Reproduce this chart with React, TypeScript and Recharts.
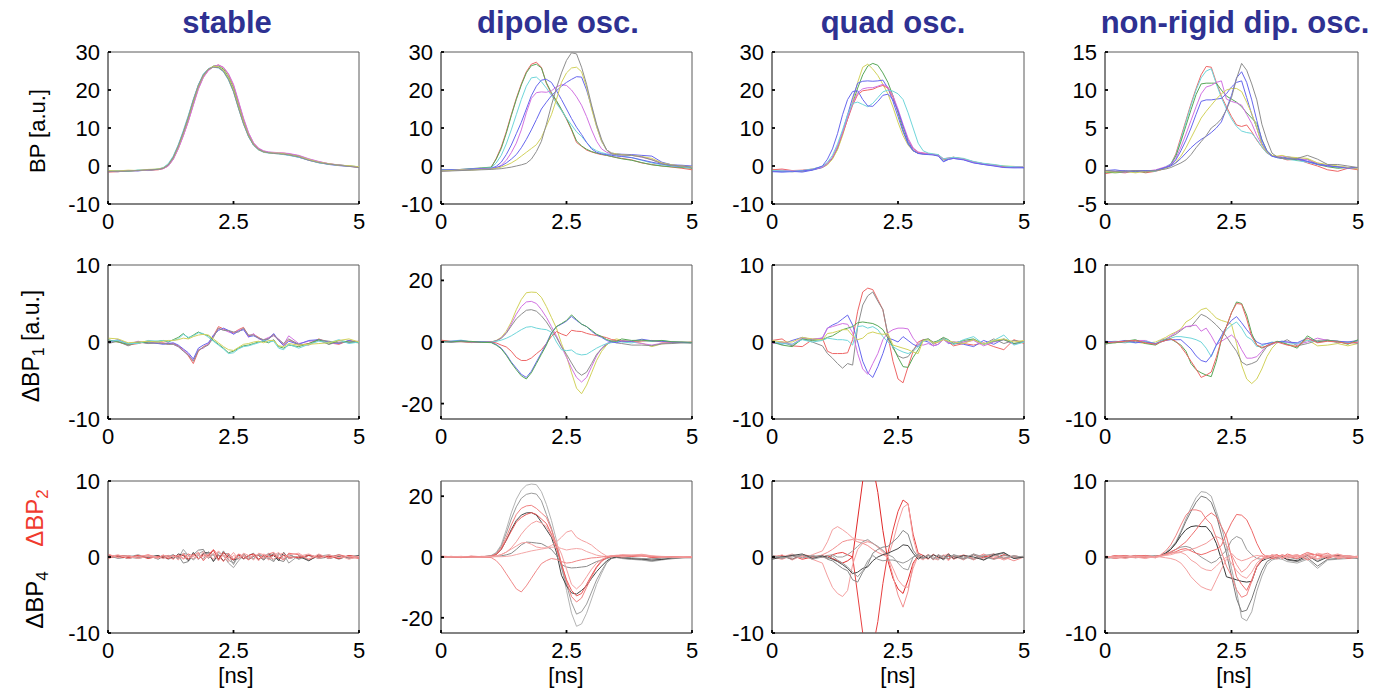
import React from 'react';
import { LineChart, Line, XAxis, YAxis, ReferenceArea } from 'recharts';

// ---------- shared sample grid (ns) and tick labels ----------
const X = [0,0.2,0.4,0.6,0.8,1.0, 1.1,1.2,1.3,1.4,1.5,1.6,1.7,1.8,1.9,2.0, 2.1,2.2,2.3,2.4,2.5,2.6,2.7,2.8,2.9,3.0, 3.1,3.2,3.3,3.4,3.5,3.6, 3.8,4.0,4.2,4.4,4.6,4.8,5.0];
const xTicks = [0, 2.5, 5];
const titles = ['stable', 'dipole osc.', 'quad osc.', 'non-rigid dip. osc.'];
const yTicksBP = [-10, 0, 10, 20, 30];
const yTicksBPsmall = [-5, 0, 5, 10, 15];
const yTicks10 = [-10, 0, 10];
const yTicks20 = [-20, 0, 20];

// ---------- row 1 : BP ----------
const bpStable = [
  [-1.6,-1.5,-1.3,-1.2,-1.1,-1.0, -0.7,0.0,1.8,4.6,8.0,11.8,16.2,20.4,23.4,25.2, 26.2,26.6,25.9,24.1,21.2,16.8,12.3,8.6,6.0,4.6, 3.9,3.6,3.5,3.4,3.4,3.2, 2.7,1.8,1.1,0.6,0.2,0.0,-0.4],
  [-1.4,-1.5,-1.2,-1.3,-1.0,-0.9, -0.5,0.4,2.4,5.4,9.0,13.0,17.4,21.3,24.1,25.6, 26.1,26.0,25.0,22.9,19.8,15.4,11.2,7.8,5.5,4.3, 3.7,3.5,3.4,3.3,3.1,2.9, 2.3,1.5,0.9,0.4,0.1,-0.1,-0.3],
  [-1.5,-1.3,-1.4,-1.1,-1.2,-0.8, -0.6,0.2,2.1,5.0,8.5,12.4,16.8,20.9,23.8,25.4, 26.3,26.3,25.5,23.5,20.5,16.0,11.7,8.1,5.7,4.4, 3.8,3.5,3.3,3.3,3.2,3.1, 2.6,1.7,1.0,0.5,0.3,0.0,-0.2],
  [-1.3,-1.2,-1.3,-1.1,-1.0,-0.8, -0.4,0.6,2.6,5.6,9.3,13.3,17.6,21.4,24.2,25.6, 26.0,25.8,24.8,22.6,19.5,15.1,11.0,7.7,5.4,4.2, 3.6,3.4,3.3,3.2,3.0,2.8, 2.3,1.6,0.8,0.5,0.2,0.0,-0.2],
  [-1.5,-1.4,-1.2,-1.2,-1.1,-0.9, -0.7,0.0,1.7,4.5,7.9,11.7,16.0,20.2,23.3,25.1, 26.1,26.6,26.0,24.3,21.5,17.1,12.6,8.8,6.1,4.7, 4.0,3.7,3.6,3.5,3.4,3.3, 2.8,1.9,1.2,0.6,0.3,0.0,-0.3],
  [-1.2,-1.3,-1.1,-1.2,-0.9,-0.8, -0.5,0.3,2.2,5.1,8.7,12.7,17.0,21.0,23.9,25.5, 26.2,26.1,25.2,23.2,20.1,15.7,11.5,8.0,5.6,4.3, 3.7,3.5,3.4,3.4,3.2,3.0, 2.5,1.7,1.0,0.6,0.2,0.1,-0.2],
  [-1.4,-1.4,-1.3,-1.2,-1.0,-0.9, -0.6,0.3,2.3,5.3,8.9,12.9,17.3,21.2,24.0,25.5, 26.0,25.9,24.9,22.8,19.6,15.2,11.1,7.8,5.5,4.3, 3.7,3.5,3.3,3.2,3.1,2.9, 2.4,1.5,0.9,0.5,0.2,-0.1,-0.4],
];
const bpDipole = [
  [-1.2,-1.0,-1.1,-0.8,-0.6,-0.4, 2.0,5.0,9.0,13.5,17.8,21.6,24.8,26.8,27.3,26.0, 21.7,19.0,17.0,14.7,12.3,9.5,6.2,5.2,4.2,3.7, 3.3,3.0,2.8,2.5,2.2,2.0, 1.6,0.8,0.4,0.0,-0.3,-0.6,-1.0],
  [-1.0,-1.1,-0.9,-0.7,-0.5,-0.3, 1.8,4.6,8.6,13.2,17.5,21.3,24.5,26.4,26.8,25.8, 21.9,19.3,17.2,14.9,12.5,9.7,6.6,5.3,4.4,3.8, 3.4,3.1,2.8,2.5,2.2,1.9, 1.5,0.9,0.3,0.0,-0.2,-0.4,-0.6],
  [-1.1,-1.0,-1.0,-0.8,-0.6,-0.5, 0.8,2.8,5.8,9.5,13.5,17.5,21.0,23.2,23.4,22.2, 20.5,18.6,16.5,14.6,12.6,10.8,9.0,7.8,6.2,4.8, 4.0,3.5,3.2,3.0,2.8,2.6, 2.2,1.5,0.8,0.3,0.0,-0.2,-0.4],
  [-1.0,-1.1,-0.9,-0.8,-0.7,-0.6, -0.1,1.0,3.0,5.5,8.5,11.5,15.0,18.5,21.0,22.6, 22.8,22.0,19.8,17.5,15.0,12.5,10.2,8.3,6.2,4.5, 3.6,3.2,3.0,2.8,2.6,2.5, 2.2,1.6,1.0,0.5,0.1,-0.1,-0.3],
  [-1.3,-1.2,-1.1,-0.9,-0.8,-0.7, -0.5,0.2,1.5,3.5,6.0,9.5,14.0,17.8,19.3,19.5, 19.4,19.8,20.8,21.4,21.2,20.0,18.2,16.0,13.0,9.5, 6.5,4.5,3.6,3.2,3.0,2.9, 2.8,2.3,1.7,0.8,0.3,0.0,-0.2],
  [-1.2,-1.0,-1.1,-0.9,-0.8,-0.7, -0.4,0.0,0.8,1.8,3.0,4.8,7.0,9.5,12.2,15.0, 16.8,18.5,19.8,21.0,22.0,22.8,23.5,23.4,20.0,15.5, 10.5,6.5,4.2,3.4,3.2,3.1, 3.0,2.8,2.6,1.0,0.3,0.2,0.0],
  [-1.3,-1.2,-1.0,-1.1,-0.9,-0.8, -0.6,-0.3,0.2,0.8,1.6,2.6,3.6,4.6,5.6,7.5, 10.5,13.5,17.5,22.0,24.5,25.8,26.0,24.8,20.8,15.0, 10.3,6.5,4.2,3.4,3.2,3.0, 2.8,2.5,2.0,0.8,0.3,0.0,-0.2],
  [-1.4,-1.3,-1.2,-1.1,-1.0,-0.9, -0.8,-0.7,-0.5,-0.3,0.0,0.3,0.7,1.8,3.8,6.5, 11.0,16.0,20.5,24.5,27.8,29.8,29.5,26.0,21.5,16.0, 11.0,7.0,4.2,3.2,3.0,2.9, 2.8,2.4,1.6,0.6,0.2,0.0,-0.3],
];
const bpQuad = [
  [-1.2,-1.3,-1.5,-1.4,-1.0,-0.3, 0.5,2.0,4.5,8.5,12.5,16.5,20.5,24.0,26.3,27.0, 26.5,24.5,22.0,18.5,14.0,9.5,6.0,4.0,3.4,3.2, 3.1,3.0,2.9,1.6,1.9,2.2, 1.8,1.0,0.5,0.2,-0.1,-0.3,-0.4],
  [-1.0,-1.1,-1.3,-1.4,-0.9,-0.4, 0.3,1.8,4.3,8.0,12.5,17.0,22.0,26.0,26.8,25.5, 23.8,21.5,19.0,15.5,11.5,8.0,5.5,4.0,3.4,3.3, 3.2,3.0,2.8,1.8,2.0,2.3, 1.9,1.1,0.6,0.3,0.0,-0.1,-0.3],
  [-1.4,-1.5,-1.4,-1.6,-1.1,-0.4, 0.6,2.3,5.0,9.0,13.5,18.0,21.8,22.3,22.4,22.3, 22.4,22.6,20.5,17.0,13.0,9.0,5.8,4.0,3.3,3.2, 3.1,3.0,2.7,1.2,1.8,2.0, 1.7,0.9,0.4,0.1,-0.2,-0.4,-0.5],
  [-1.0,-0.8,-1.2,-1.1,-0.8,-0.2, 0.7,2.2,5.0,8.5,12.3,16.0,18.8,19.8,20.0,20.2, 20.8,21.2,20.5,18.0,14.5,10.5,7.0,4.6,3.6,3.4, 3.3,3.1,2.9,1.9,2.1,2.3, 1.8,1.1,0.6,0.3,-0.2,-0.2,-0.3],
  [-1.3,-1.1,-1.3,-1.2,-0.9,-0.3, 0.6,2.3,5.2,8.8,12.7,16.5,19.3,20.3,20.6,20.6, 21.0,21.5,20.8,18.5,15.0,11.0,7.3,4.8,3.7,3.4, 3.2,3.0,2.8,1.8,2.0,2.2, 1.8,1.0,0.6,0.2,-0.4,-0.2,-0.3],
  [-1.2,-1.3,-1.4,-1.2,-0.8,-0.1, 1.0,2.8,5.8,9.5,13.5,16.5,16.8,16.2,15.6,16.5, 18.0,19.5,20.0,19.7,19.0,17.5,14.0,10.0,6.0,4.0, 3.4,3.2,3.0,1.9,2.1,2.3, 2.0,1.2,0.7,0.4,0.0,-0.2,-0.3],
  [-1.5,-1.6,-1.5,-1.3,-1.0,0.0, 1.8,4.5,8.5,13.5,17.5,19.6,19.8,17.5,15.8,15.7, 17.0,18.6,18.9,17.5,14.5,10.5,6.5,4.2,3.3,3.1, 3.0,2.9,2.6,1.1,1.7,2.0, 1.6,0.8,0.4,0.0,-0.4,-0.5,-0.4],
];
const bpNonRigid = [
  [-1.0,-0.8,-0.9,-0.6,-0.9,-0.7, -0.5,-0.2,0.2,1.6,3.8,6.0,8.2,10.2,12.0,13.1, 13.0,11.0,9.2,7.8,6.5,5.4,5.2,5.4,4.5,3.4, 2.5,1.7,1.4,1.2,1.0,0.8, 0.9,0.4,0.0,-0.5,-0.7,-0.3,-0.5],
  [-0.7,-0.8,-0.7,-0.8,-0.6,-0.7, -0.4,-0.1,0.3,1.4,3.5,5.8,8.0,10.0,11.6,12.5, 12.8,10.8,9.0,7.5,6.2,5.2,4.6,4.4,4.3,3.5, 2.5,1.7,1.3,1.1,1.0,0.9, 0.7,0.5,0.2,0.0,-0.2,-0.2,-0.3],
  [-0.8,-0.9,-0.8,-0.7,-0.8,-0.6, -0.4,-0.2,0.2,1.3,3.2,5.3,7.4,9.4,10.8,10.9, 10.9,10.9,10.0,9.2,8.8,8.4,7.8,7.0,6.3,5.6, 3.5,2.0,1.4,1.2,1.1,1.0, 0.8,0.9,0.2,-0.1,-0.3,-0.2,-0.2],
  [-0.7,-0.7,-0.8,-0.6,-0.7,-0.5, -0.3,-0.1,0.2,1.0,2.5,4.2,6.0,7.8,9.5,10.4, 10.6,11.0,11.2,8.8,8.5,8.3,8.0,6.8,5.6,4.0, 2.8,1.8,1.3,1.2,1.3,1.2, 1.0,0.8,0.4,0.0,-0.1,-0.2,-0.3],
  [-0.6,-0.7,-0.6,-0.8,-0.6,-0.6, -0.4,-0.2,0.1,0.8,2.0,3.4,5.0,6.8,8.5,8.7, 8.7,8.8,8.9,9.5,10.4,11.0,11.2,9.0,6.8,5.0, 3.0,1.8,1.3,1.2,1.0,1.2, 1.0,0.6,0.3,0.1,-0.1,-0.2,-0.2],
  [-0.7,-0.8,-0.7,-0.9,-0.7,-0.6, -0.5,-0.3,0.0,0.5,1.3,2.4,3.7,5.0,6.3,7.2, 8.0,8.8,9.5,10.0,10.2,10.2,9.8,8.4,6.9,5.0, 2.8,1.8,1.4,1.3,1.4,1.2, 1.1,1.0,0.4,0.2,0.0,-0.2,-0.4],
  [-0.6,-0.5,-0.7,-0.6,-0.6,-0.6, -0.4,-0.2,0.0,0.4,1.0,1.7,2.4,3.0,3.5,3.9, 4.4,5.0,5.8,7.5,9.3,11.6,12.4,11.0,8.7,6.0, 3.4,2.0,1.3,1.1,1.0,1.0, 0.9,0.6,0.2,0.0,-0.1,-0.3,-0.2],
  [-0.6,-0.7,-0.7,-0.6,-0.7,-0.6, -0.5,-0.4,-0.2,0.1,0.4,0.8,1.5,2.4,3.2,4.0, 5.0,5.5,6.2,7.4,9.0,11.5,13.5,12.6,10.8,8.7, 5.5,3.4,1.7,1.2,1.0,0.9, 1.0,1.4,0.9,0.2,0.2,0.0,-0.2],
];

// ---------- row 2 : dBP1 ----------
const d1Stable = [
  [0.2,0.0,-0.4,-0.2,0.1,-0.2, -0.1,-0.3,-0.2,-0.5,-1.0,-1.8,-2.8,-1.2,-0.6,-0.3, 0.8,2.0,1.7,1.4,1.2,1.6,1.9,0.8,1.0,0.6, 0.2,0.5,1.0,0.2,-0.4,0.3, -0.4,-0.2,0.4,-0.1,-0.3,0.2,0.0],
  [-0.1,0.2,-0.3,0.1,-0.2,0.0, -0.2,-0.1,-0.3,-0.6,-1.1,-1.6,-2.4,-1.0,-0.8,-0.2, 0.7,1.7,1.6,1.3,1.1,1.5,1.7,0.6,1.1,0.4, 0.3,0.6,0.8,0.4,-0.3,0.8, -0.2,0.1,0.2,-0.3,0.0,-0.1,0.1],
  [0.0,0.3,-0.2,0.0,-0.1,-0.2, -0.3,-0.2,-0.1,-0.4,-0.9,-1.4,-2.2,-0.8,-0.4,-0.1, 0.9,1.5,1.8,1.5,1.0,1.4,1.6,0.7,0.8,0.5, 0.1,0.4,1.1,0.2,-0.5,0.1, -0.3,0.2,0.3,0.0,-0.2,0.2,-0.1],
  [-0.2,0.1,-0.5,0.0,-0.2,-0.1, -0.2,-0.3,-0.3,-0.6,-1.2,-1.7,-2.5,-1.1,-0.7,-0.4, 0.6,1.8,1.5,1.5,1.3,1.3,1.8,0.9,0.9,0.5, 0.3,0.4,0.9,0.3,-0.2,0.4, -0.3,-0.4,0.3,0.1,-0.1,0.0,0.1],
  [0.3,0.0,-0.3,-0.1,0.0,0.1, 0.2,0.0,0.3,0.6,1.1,0.5,0.9,1.3,1.0,0.8, 0.2,-0.3,-0.8,-1.4,-1.2,-0.8,-0.5,-0.4,-0.2,0.0, 0.1,-0.1,0.3,-0.6,-0.8,-0.4, -0.6,-0.2,0.3,-0.3,0.2,0.0,-0.1],
  [0.1,0.2,-0.2,-0.2,0.2,0.1, 0.2,0.1,0.2,0.4,1.0,0.6,0.8,1.2,1.1,0.6, 0.1,-0.4,-0.9,-1.5,-1.4,-0.9,-0.6,-0.5,-0.3,-0.1, 0.2,0.0,0.1,-0.8,-1.0,-0.3, -0.8,-0.3,0.1,-0.1,0.3,-0.2,0.0],
  [0.5,0.4,-0.1,0.0,0.1,0.0, 0.1,0.2,0.2,0.3,0.5,0.4,0.7,0.9,1.0,0.9, 0.4,-0.1,-0.6,-1.0,-1.1,-0.7,-0.3,-0.2,0.0,0.1, -0.1,0.2,0.2,-0.5,-0.6,-0.2, -0.4,-0.3,-0.2,-0.1,0.2,0.4,0.0],
];
const d1Dipole = [
  [0.5,0.1,0.3,-0.2,0.0,0.0, 0.5,1.5,3.5,6.5,10.5,13.8,16.0,16.2,16.1,14.5, 11.5,8.0,4.5,-0.5,-4.6,-10.0,-15.0,-16.8,-14.0,-10.0, -6.0,-3.0,-1.0,0.5,1.0,0.5, 0.2,-0.4,-1.5,-0.6,-0.3,0.0,-0.3],
  [0.3,-0.1,0.2,0.0,0.1,0.0, 0.4,1.3,3.0,5.8,9.0,11.5,13.0,13.2,12.5,10.5, 8.0,5.0,2.0,-1.5,-5.0,-8.5,-11.5,-13.0,-11.5,-8.0, -4.5,-2.0,-0.5,0.3,0.5,0.3, 0.0,-0.5,-1.0,-0.4,-0.2,-0.1,-0.2],
  [0.2,0.0,0.1,-0.1,0.1,0.0, 0.4,1.2,2.8,5.2,7.5,9.0,10.3,10.5,10.0,8.5, 6.5,4.0,1.5,-1.5,-4.0,-6.8,-9.5,-10.8,-9.8,-7.0, -4.0,-2.2,-0.8,0.1,-0.3,-0.5, -1.0,-1.0,-1.2,-0.6,-0.5,-0.3,-0.4],
  [0.2,0.3,0.6,0.0,0.1,0.0, 0.2,0.6,1.2,2.0,3.0,4.0,4.8,5.0,4.5,4.2, 4.0,3.2,0.0,-2.5,-2.8,-2.6,-3.8,-4.2,-4.0,-3.0, -2.0,-1.2,-0.5,-0.2,0.2,0.0, -0.3,0.4,0.2,0.5,0.0,-0.2,-0.2],
  [0.6,0.2,0.1,0.0,-0.1,0.0, -0.3,-1.0,-1.6,-3.0,-5.0,-6.0,-6.0,-5.2,-3.8,-2.5, -0.5,1.8,3.4,2.6,2.0,3.8,3.5,3.4,2.8,2.4, 2.1,1.8,1.4,0.8,0.5,0.3, 0.2,0.3,0.5,0.0,0.0,-0.2,0.0],
  [0.0,0.2,0.4,0.1,0.0,-0.1, -0.8,-2.0,-4.0,-6.5,-8.5,-10.5,-11.5,-9.5,-6.5,-3.5, -0.5,3.0,5.0,5.8,6.8,8.3,7.0,5.8,5.0,3.5, 2.3,1.5,0.5,0.0,-0.2,0.3, 0.2,0.9,0.4,0.2,0.0,-0.1,-0.2],
  [0.1,0.0,0.3,0.2,-0.1,-0.2, -1.0,-2.2,-4.3,-6.8,-9.0,-11.0,-12.0,-10.0,-7.0,-4.0, -1.0,2.8,5.0,6.0,7.0,8.8,7.3,5.8,5.0,3.8, 2.5,1.8,0.8,0.3,0.2,1.0, 0.5,0.6,0.3,0.5,0.1,0.0,-0.1],
];
const d1Quad = [
  [0.2,0.4,-0.5,-0.6,0.3,0.5, -1.2,-1.5,-1.5,-1.5,-1.4,0.3,4.0,6.5,7.0,6.8, 5.5,4.2,0.8,-2.5,-4.8,-5.3,-3.2,-1.2,0.0,0.3, 0.3,-0.3,0.0,0.5,0.0,-0.5, -0.2,-0.4,-0.1,-0.6,-1.0,0.3,-0.2],
  [-0.2,0.0,-0.5,0.4,0.0,-0.5, -1.5,-2.1,-2.8,-3.4,-2.8,-3.0,2.0,4.8,6.0,6.5, 5.3,4.2,1.0,-0.8,-1.8,-2.1,-1.9,-1.0,-0.3,0.3, 0.4,0.0,0.1,0.4,0.0,-0.3, 0.0,0.3,-0.3,0.4,-0.2,0.2,0.0],
  [0.0,-0.3,0.2,0.6,0.3,0.5, 1.8,2.2,2.5,3.0,3.5,2.2,0.0,-2.5,-4.0,-4.6, -3.2,-1.5,0.5,0.3,0.0,0.7,0.2,-0.3,-0.6,0.2, 0.0,-0.5,-0.3,0.4,-0.2,0.0, -0.3,-0.6,0.2,-0.3,0.4,-0.2,0.0],
  [-0.2,0.0,-0.3,0.5,0.4,0.5, 1.8,2.0,2.2,2.4,2.3,1.2,-1.5,-3.5,-4.2,-2.8, -1.5,0.3,1.2,1.6,1.8,1.8,1.7,0.5,-0.3,-0.4, -0.2,-0.5,-0.3,0.3,-0.1,0.0, 0.0,0.2,-0.5,0.0,0.3,-0.3,0.0],
  [0.0,-0.4,-0.6,0.4,0.2,0.3, 0.6,0.8,1.2,1.6,1.8,2.0,2.5,2.6,2.5,2.4, 2.1,1.6,0.5,-0.6,-2.0,-3.2,-3.3,-2.0,-1.0,0.2, 0.4,-0.1,0.2,0.6,0.3,-0.2, 0.2,0.4,-0.3,0.1,0.3,-0.2,0.0],
  [0.1,-0.2,-0.3,0.3,0.0,0.2, 0.5,0.4,0.3,0.3,0.2,-0.4,2.0,2.1,1.8,2.0, 1.6,0.7,0.0,-0.6,-1.0,-1.3,-1.5,-1.2,-0.6,0.1, 0.3,-0.2,0.1,0.4,0.2,-0.3, 0.3,0.7,-0.3,0.2,0.9,-0.4,0.0],
  [0.2,0.0,0.0,0.6,0.4,0.3, 1.1,1.2,1.4,1.6,1.6,0.8,0.3,0.5,1.1,1.3, 1.1,1.0,1.1,-0.4,-0.6,-0.8,-1.0,-1.3,-1.5,0.2, 0.3,-0.1,0.0,0.3,0.1,0.0, -0.2,0.3,-0.3,0.2,0.4,0.0,0.2],
];
const d1NonRigid = [
  [0.0,-0.1,0.1,0.0,-0.2,0.0, 0.3,0.6,1.0,1.3,1.7,2.6,3.0,3.6,4.2,4.4, 3.8,3.1,2.8,2.6,2.3,-0.2,-3.0,-4.8,-5.4,-4.8, -3.5,-1.9,-0.8,-0.1,0.0,-0.3, -0.6,0.3,-0.5,-0.4,-0.2,-0.5,-0.2],
  [-0.3,0.0,-0.1,0.1,0.0,-0.3, 0.2,0.4,0.7,1.0,1.5,2.0,2.0,2.8,3.6,3.3, 2.8,2.2,1.5,0.7,-0.3,-1.2,-2.6,-3.0,-2.8,-2.5, -1.5,-0.6,-0.3,0.0,0.0,0.3, -0.5,-0.2,0.2,0.3,-0.1,0.0,-0.2],
  [-0.1,0.0,0.1,0.2,0.2,-0.3, 0.1,0.3,0.8,1.2,1.6,2.0,2.1,2.2,1.4,1.8, 0.8,-0.4,0.1,0.5,0.9,0.3,-1.0,-2.1,-2.1,-1.9, -1.2,-0.4,-0.3,0.0,-0.1,0.0, -0.3,0.0,0.5,0.2,0.1,-0.1,0.0],
  [0.0,0.1,0.0,-0.1,0.1,-0.2, 0.1,0.3,0.5,0.7,0.7,0.6,0.5,0.3,0.0,-0.8, -1.9,-0.4,0.6,1.6,2.2,2.6,1.8,0.7,0.3,-0.6, -0.5,-0.2,0.0,-0.1,0.1,-0.3, -0.2,0.2,0.0,0.1,0.0,-0.1,0.1],
  [0.1,0.0,0.2,-0.1,0.0,-0.2, 0.0,0.2,0.3,0.3,0.3,-0.3,-0.9,-1.8,-2.4,-2.6, -1.8,-0.4,0.8,2.0,2.8,3.3,2.5,1.6,0.8,0.0, -0.3,-0.2,-0.1,0.0,0.1,0.0, -0.1,0.5,0.0,0.2,0.1,0.0,0.2],
  [-0.2,-0.1,0.1,0.3,-0.2,-0.4, 0.0,0.3,0.4,0.0,-0.4,-1.2,-2.8,-3.6,-4.0,-4.3, -4.5,-2.5,0.3,2.0,3.8,5.2,5.0,3.5,1.1,-0.4, -0.8,-0.5,-0.2,0.1,-0.1,-0.3, -0.8,0.8,0.0,0.2,0.1,-0.3,0.3],
  [-0.1,0.0,0.1,0.2,-0.1,-0.3, 0.0,0.2,0.4,0.1,-0.6,-1.5,-2.5,-3.5,-4.6,-4.3, -3.9,-2.0,0.3,2.0,3.8,5.0,4.9,3.0,0.7,-0.4, -0.7,-0.5,-0.2,0.0,-0.2,-0.4, -0.6,0.5,-0.1,0.1,0.0,-0.2,0.0],
];

// ---------- row 3 : dBP2 (red) and dBP4 (black) ----------
const d24Stable = [
  [0.2,-0.2,0.0,0.3,-0.1,0.2, -0.2,0.1,0.3,-0.2,1.0,0.2,-0.3,0.4,0.8,0.3, -0.5,0.6,0.2,-0.8,-1.4,-0.5,0.2,0.0,-0.3,0.3, 0.0,0.5,-0.6,0.3,0.4,-0.8, 0.2,-0.4,0.1,0.3,-0.2,0.1,-0.1],
  [-0.1,0.1,0.2,-0.1,0.2,-0.3, 0.1,-0.3,0.0,0.2,-0.8,-0.6,0.3,0.9,1.0,-0.2, 0.4,-0.3,0.8,-0.4,-0.8,0.3,-0.2,0.2,0.5,-0.4, 0.2,-0.3,0.5,-0.4,-0.6,0.4, -0.3,0.2,-0.2,0.0,0.3,-0.2,0.0],
  [0.0,0.2,-0.2,0.1,0.0,0.2, -0.1,0.2,-0.2,0.4,0.2,-0.5,0.6,-0.3,0.5,0.6, -0.6,0.3,-0.5,0.2,-0.4,-0.2,0.4,-0.3,0.1,0.2, -0.4,0.3,0.2,-0.5,0.6,-0.2, 0.1,-0.5,0.3,-0.2,0.1,0.0,0.2],
  [0.1,-0.1,0.0,-0.2,0.1,0.0, 0.2,0.0,0.3,-0.3,0.5,0.3,-0.4,0.2,-0.3,0.7, 0.2,-0.4,0.5,0.4,-1.0,0.2,-0.3,0.1,-0.2,0.4, 0.1,-0.2,-0.6,0.5,-0.3,0.3, -0.2,0.3,-0.1,0.2,-0.3,0.2,-0.1],
  [0.3,0.0,-0.1,0.2,-0.2,0.1, 0.0,-0.2,0.2,0.0,0.3,-0.3,0.4,-0.2,0.3,0.1, 0.9,-0.3,0.6,0.0,-0.4,0.3,-0.2,0.2,0.4,-0.3, 0.2,0.0,0.3,-0.2,0.2,0.0, -0.1,0.2,0.0,0.1,-0.2,0.2,0.0],
  [-0.2,0.2,0.1,0.0,0.3,-0.1, 0.2,0.1,-0.3,0.3,-0.2,0.4,0.1,0.6,-0.5,0.3, 1.0,0.2,-0.6,0.5,-0.3,0.4,0.1,-0.4,0.3,0.2, -0.2,0.4,0.6,0.0,-0.4,0.5, 0.3,-0.3,0.2,-0.1,0.3,0.0,-0.2],
  [0.4,-0.1,0.2,-0.2,0.1,-0.2, 0.3,-0.1,0.2,-0.4,0.5,-0.2,0.3,-0.3,0.7,-0.1, 0.5,-0.5,0.3,-0.2,0.6,-0.3,0.5,0.2,-0.4,0.5, 0.3,-0.4,0.2,0.6,-0.2,0.3, 0.5,-0.3,0.4,-0.2,0.2,-0.3,0.1],
  [0.0,0.3,-0.2,0.1,0.2,0.0, -0.2,0.2,0.0,0.2,-0.3,0.1,-0.2,0.3,0.0,0.4, -0.3,0.8,0.1,-0.6,0.2,-0.1,0.3,-0.2,0.2,-0.5, 0.4,0.1,-0.3,0.3,0.5,-0.2, 0.1,0.4,-0.2,0.3,-0.1,0.1,0.0],
];
const d24Dipole = [
  [0.2,0.0,-0.2,0.1,0.0,0.5, 1.5,4.0,9.0,14.5,19.0,22.0,23.6,24.0,23.8,21.5, 17.3,12.0,5.5,-3.0,-11.0,-18.5,-22.8,-22.0,-18.5,-13.8, -9.0,-5.3,-2.0,-0.4,0.0,-0.3, -0.8,-1.0,-1.5,-1.0,-0.5,-0.2,-0.3],
  [0.1,-0.1,0.0,0.2,0.0,0.4, 1.2,3.5,7.8,12.5,16.5,19.3,20.6,21.0,20.7,18.5, 14.0,9.5,3.5,-3.5,-9.0,-15.0,-18.8,-18.0,-15.5,-11.5, -7.5,-4.5,-1.8,-0.5,-0.2,-0.5, -0.8,-0.9,-1.3,-0.8,-0.6,-0.3,-0.2],
  [0.0,0.1,-0.1,0.0,0.1,0.2, 0.8,2.5,5.5,9.0,12.0,13.8,14.5,14.6,13.8,11.5, 9.0,6.5,1.5,-6.0,-9.5,-11.8,-12.2,-11.0,-9.5,-7.0, -4.8,-3.0,-1.3,-0.3,0.0,-0.2, -0.5,-0.7,-1.0,-0.8,-0.3,-0.2,-0.1],
  [0.2,0.0,0.1,-0.1,0.0,0.1, 0.2,0.4,0.7,1.2,2.5,4.0,4.9,4.8,4.6,4.4, 3.5,2.5,0.5,-2.5,-3.3,-3.6,-3.5,-3.3,-3.1,-2.3, -1.5,-1.0,-0.5,0.0,0.3,0.0, -0.3,-0.5,-0.6,-0.4,-0.2,-0.1,0.0],
  [0.3,0.1,-0.2,0.3,0.1,0.3, 1.0,3.0,6.5,10.5,14.0,16.0,16.8,17.0,16.0,14.5, 13.0,9.0,4.0,-2.0,-8.0,-13.0,-14.8,-13.5,-10.0,-6.5, -3.5,-1.5,-0.3,0.3,0.2,0.0, 0.3,0.5,-0.2,0.1,0.0,-0.2,0.1],
  [0.0,0.2,0.0,-0.1,0.2,0.2, 0.8,2.5,5.5,8.5,11.5,13.0,14.0,14.6,14.0,12.5, 11.0,7.5,3.0,-2.5,-7.5,-11.0,-12.8,-12.0,-9.0,-6.0, -3.2,-1.2,-0.2,0.2,0.3,0.5, 0.2,0.4,-0.1,0.0,0.1,-0.1,0.0],
  [-0.1,0.1,0.2,0.0,0.1,0.1, 0.3,0.8,1.6,3.0,5.0,7.5,9.5,11.0,11.8,11.2, 10.0,7.0,4.5,1.0,-4.0,-9.0,-10.5,-9.0,-6.5,-4.0, -2.0,-0.8,0.0,0.5,0.4,0.2, 0.5,0.8,0.3,0.0,0.1,0.0,-0.1],
  [0.1,-0.1,0.2,0.0,-0.1,0.2, 0.4,0.8,1.6,2.6,3.6,4.6,4.8,4.2,3.3,3.0, 3.0,3.8,5.0,6.5,8.2,8.7,6.5,5.5,4.8,3.9, 2.5,1.3,0.3,0.0,0.5,0.8, 0.6,0.9,0.4,0.2,0.1,-0.1,0.0],
  [0.0,0.2,0.0,0.1,0.0,0.0, 0.1,0.1,0.2,0.4,0.8,1.2,1.6,2.0,2.3,2.6, 2.9,3.2,3.3,2.8,2.3,2.6,2.8,2.6,1.8,1.2, 0.6,0.3,0.1,0.4,0.6,0.3, 0.5,0.4,0.2,0.1,0.0,-0.1,0.0],
  [0.1,0.0,-0.1,0.2,0.0,-0.2, -1.2,-3.0,-5.5,-8.0,-10.5,-11.5,-9.5,-7.0,-4.5,-2.2, -1.2,-0.5,-0.8,-1.5,-2.0,-1.8,-1.3,-0.9,-0.6,-0.3, -0.2,0.0,0.2,0.3,0.4,0.5, 0.6,0.3,0.2,0.0,0.1,0.0,-0.1],
];
const d24Quad = [
  [0.0,0.2,-0.3,0.3,0.1,0.0, 0.2,-0.2,-0.5,-0.8,-0.5,0.0,5.0,10.0,12.5,12.0, 8.5,3.5,-0.5,-2.8,-4.2,-4.8,-3.0,-0.8,0.2,-0.1, 0.3,-0.3,0.2,-0.2,0.1,0.0, 0.2,-0.3,0.1,-0.2,0.3,0.0,0.0],
  [0.1,-0.2,0.2,-0.3,0.0,0.2, -0.2,0.3,0.5,0.6,0.3,0.0,-5.0,-10.0,-12.5,-12.0, -8.5,-3.5,0.5,3.5,6.0,7.5,7.0,3.0,0.5,0.2, -0.2,0.3,-0.1,0.2,-0.3,0.1, -0.2,0.3,-0.1,0.4,-0.2,0.1,0.0],
  [0.2,0.0,0.4,-0.2,0.3,0.8, 2.0,3.6,4.0,3.6,3.1,2.5,2.3,2.2,2.1,1.8, 1.3,0.8,0.0,-1.5,-3.0,-3.8,-4.0,-1.5,0.2,-0.3, 0.2,-0.4,0.3,-0.2,0.5,-0.3, 0.2,-0.4,0.3,0.0,-0.3,0.2,-0.1],
  [-0.2,0.3,-0.4,0.2,-0.3,-0.8, -2.5,-4.0,-4.8,-5.2,-4.4,-1.0,1.0,1.8,2.0,1.8, 1.3,0.6,0.0,2.0,4.5,6.5,7.0,2.5,0.0,-0.4, 0.3,-0.2,-0.4,0.3,-0.5,0.2, -0.4,0.4,-0.3,0.2,-0.4,0.1,0.0],
  [0.0,-0.3,0.2,0.1,-0.2,0.3, 0.6,1.0,1.5,2.0,2.2,2.3,2.0,1.8,1.5,1.0, 0.6,0.3,0.0,-2.5,-5.0,-6.6,-4.5,-1.0,0.3,0.0, -0.3,0.4,-0.2,0.2,0.3,-0.3, 0.3,-0.2,0.4,-0.3,0.0,-0.5,0.0],
  [-0.2,0.1,-0.3,0.3,0.0,0.2, -0.3,-0.5,-1.0,-1.5,-1.8,-3.0,-3.3,-2.0,-1.0,0.5, 1.0,1.3,1.4,2.0,2.6,3.5,3.0,0.9,0.0,-0.2, 0.2,-0.3,0.3,-0.4,0.2,0.1, -0.3,0.3,-0.4,0.2,0.5,-0.2,0.0],
  [0.1,-0.2,0.3,-0.1,0.2,0.0, 0.2,0.3,0.0,0.0,0.3,0.8,1.4,2.0,2.3,1.8, 1.4,0.9,0.3,0.0,-0.8,-1.5,-1.7,0.0,0.4,-0.2, 0.3,0.0,-0.3,0.2,-0.2,0.3, 0.0,-0.3,0.2,0.4,-0.2,0.2,-0.1],
  [-0.3,0.0,0.2,0.4,-0.2,0.1, 0.0,-0.3,-0.6,-1.0,-1.5,-2.2,-2.0,-1.5,-1.3,-0.5, 0.0,0.3,0.5,0.8,1.1,1.6,1.5,0.5,-0.3,0.2, -0.2,0.3,0.0,-0.3,0.4,-0.2, 0.2,0.0,-0.4,0.3,0.6,-0.2,0.0],
  [0.2,-0.1,0.0,0.3,-0.3,0.0, -0.2,0.1,-0.4,-0.8,-1.3,-2.0,-2.6,-1.8,-0.5,0.2, -0.3,-0.5,-0.4,-0.4,-0.6,-0.8,-0.5,0.0,0.3,-0.1, 0.2,-0.3,0.3,0.0,-0.2,0.3, -0.2,0.4,0.0,-0.3,0.2,0.0,0.1],
];
const d24NonRigid = [
  [0.0,-0.2,0.1,0.0,0.2,0.1, 0.2,0.6,1.2,2.0,3.4,5.0,6.5,7.8,8.6,8.5, 8.0,6.0,4.0,1.5,-1.5,-4.5,-8.0,-8.4,-7.2,-4.5, -2.5,-1.0,-0.4,-0.2,-0.3,-0.6, -0.8,-0.3,-1.5,-0.4,-0.3,-0.2,-0.1],
  [-0.2,0.0,-0.1,0.2,0.0,0.1, 0.1,0.5,1.0,1.8,3.2,4.7,6.0,7.2,8.0,7.8, 7.2,5.5,3.0,0.5,-2.5,-5.5,-7.2,-7.0,-5.5,-3.5, -1.8,-0.6,-0.2,-0.1,0.1,-0.4, -0.6,-0.1,-1.2,-0.3,-0.2,0.0,-0.2],
  [0.0,0.1,-0.1,0.0,0.1,0.0, 0.2,0.5,1.0,1.8,2.8,3.6,4.0,4.1,4.0,4.0, 3.2,1.8,-0.3,-2.6,-2.8,-3.0,-3.2,-3.3,-3.2,-1.3, -0.5,-0.2,0.0,-0.2,0.0,-0.3, -0.5,0.2,-0.6,0.0,0.2,-0.1,0.0],
  [0.1,0.0,0.2,-0.1,0.0,0.2, 0.1,0.4,0.6,1.0,1.3,1.4,1.2,0.5,0.0,-0.4, -0.8,-0.5,0.2,0.9,2.2,2.7,2.4,1.0,0.3,-0.2, -0.3,0.0,0.1,-0.2,0.2,0.0, -0.3,0.3,-0.5,0.2,0.0,0.2,-0.1],
  [0.1,-0.2,0.0,0.2,0.1,-0.1, 0.3,0.8,1.6,2.8,4.2,5.5,6.2,6.2,6.0,5.0, 4.3,2.5,0.7,-1.2,-2.5,-4.3,-5.3,-5.0,-3.2,-1.2, -0.3,0.0,0.2,0.3,-0.2,0.1, 0.3,-0.4,0.2,0.5,-0.2,0.0,0.1],
  [0.0,0.1,0.2,0.0,-0.1,0.1, 0.2,0.4,0.7,1.0,1.5,2.0,2.8,3.6,4.5,5.3, 5.8,5.3,4.0,2.7,0.0,-2.6,-3.6,-4.4,-3.0,-1.3, -0.4,0.2,0.0,0.3,-0.1,0.4, 0.0,0.6,0.2,-0.2,0.3,0.1,0.0],
  [-0.1,0.2,0.0,0.1,0.2,0.0, 0.1,0.3,0.5,0.7,1.0,1.1,0.8,0.5,0.3,0.5, 0.8,1.0,1.5,3.1,4.5,5.6,5.5,4.9,3.5,1.8, 0.5,0.0,-0.2,0.0,0.3,0.1, -0.2,0.4,0.3,0.0,0.1,-0.2,0.0],
  [0.0,-0.1,0.1,0.0,-0.2,0.1, 0.0,-0.1,-0.2,-0.4,-0.8,-1.6,-2.6,-3.3,-3.9,-4.2, -4.4,-3.0,-1.6,-0.3,0.5,-0.2,-0.5,-0.3,0.0,0.2, 0.1,-0.2,0.3,0.1,-0.1,0.2, 0.0,0.3,-0.2,0.1,0.4,0.0,-0.1],
  [0.1,0.0,-0.2,0.1,0.0,-0.1, 0.1,0.2,0.3,0.5,0.6,0.3,-0.4,-0.8,-1.4,-1.7, -1.8,-1.2,-0.5,0.0,-0.8,-1.8,-2.5,-2.8,-2.0,-0.8, -0.2,0.2,0.0,-0.3,0.2,0.0, 0.3,-0.2,0.5,0.2,-0.1,0.0,0.1],
  [0.0,0.1,0.0,-0.1,0.1,0.0, 0.2,0.3,0.5,0.6,0.7,0.9,1.0,1.2,1.5,1.8, 2.3,2.7,2.4,1.5,0.3,-1.0,-2.0,-1.5,-0.6,-0.2, 0.2,-0.1,0.3,0.0,0.2,-0.2, 0.2,0.1,-0.3,0.3,0.0,0.2,0.0],
];

// ---------- colours ----------
const B = '#6767ee', G = '#58a858', R = '#ee6666', Cy = '#6fd6da', M = '#d273e2', Y = '#d2d25c', K = '#8e8e8e';
const colBpStable = [R, B, G, Cy, M, Y, K];
const colBpDipole = [R, G, Cy, B, M, B, Y, K];
const colBpQuad = [G, Y, B, R, M, Cy, B];
const colBpNonRigid = [R, Cy, G, M, B, Y, B, K];
const colD1Stable = [R, M, B, K, G, Cy, Y];
const colD1Dipole = [Y, M, K, Cy, R, B, G];
const colD1Quad = [R, K, B, M, G, Cy, Y];
const colD1NonRigid = [Y, K, M, Cy, B, G, R];
const colD24Stable = ['#a0a0a0', '#888888', '#444444', '#9a9a9a', '#d83030', '#ee7070', '#f4a0a0', '#f4a0a0'];
const colD24Dipole = ['#b4b4b4', '#9c9c9c', '#454545', '#8a8a8a', '#f08080', '#e85858', '#f4a0a0', '#f4a0a0', '#f4a8a8', '#f08888'];
const colD24Quad = ['#e02828', '#e84040', '#f4a0a0', '#f4a0a0', '#f29090', '#8a8a8a', '#a0a0a0', '#484848', '#9a9a9a'];
const colD24NonRigid = ['#aaaaaa', '#7a7a7a', '#383838', '#9a9a9a', '#f08484', '#ee7070', '#ee6a6a', '#f4a0a0', '#f4a4a4', '#f29a9a'];

const FONT = '"Liberation Sans", Arial, Helvetica, sans-serif';
const TITLE_COLOR = '#2e3192';
const AXIS_COLOR = '#5a5a5a';

const colsX = [[108, 359], [441, 692], [772, 1024], [1105, 1358]];
const rowsY = [[52, 204], [265, 419], [481, 633]];

const ML = 70, MT = 18, MR = 8, MB = 40;

const BottomTick = (props: any) => {
  const { x, y, payload } = props;
  return (
    <g>
      <line x1={x} y1={y} x2={x} y2={y - 3} stroke="#000" strokeWidth={1.8} />
      <text x={x} y={y + 25} textAnchor="middle" fontSize={22} fill="#000" fontFamily={FONT}>{String(payload.value)}</text>
    </g>
  );
};
const TopTick = (props: any) => {
  const { x, y } = props;
  return <line x1={x} y1={y} x2={x} y2={y + 3} stroke="#000" strokeWidth={1.8} />;
};
const LeftTick = (props: any) => {
  const { x, y, payload } = props;
  return (
    <g>
      <line x1={x} y1={y} x2={x + 3} y2={y} stroke="#000" strokeWidth={1.8} />
      <text x={x - 8} y={y} dy="0.36em" textAnchor="end" fontSize={22} fill="#000" fontFamily={FONT}>{String(payload.value)}</text>
    </g>
  );
};
const RightTick = (props: any) => {
  const { x, y } = props;
  return <line x1={x} y1={y} x2={x - 3} y2={y} stroke="#000" strokeWidth={1.8} />;
};

function Panel({ col, row, domain, yTicks, series, colors }: { col: number; row: number; domain: [number, number]; yTicks: number[]; series: number[][]; colors: string[] }) {
  const [l, r] = colsX[col];
  const [t, b] = rowsY[row];
  const w = r - l, h = b - t;
  const data = X.map((x, i) => {
    const o: any = { x };
    series.forEach((s, j) => { o['s' + j] = s[i]; });
    return o;
  });
  return (
    <div style={{ position: 'absolute', left: l - ML, top: t - MT }}>
      <LineChart width={w + ML + MR} height={h + MT + MB} data={data} margin={{ top: MT, right: MR, bottom: 0, left: 0 }}>
        <XAxis xAxisId="b" dataKey="x" type="number" domain={[0, 5]} ticks={xTicks} interval={0} height={MB}
          tickSize={0} tickMargin={0} tickLine={false} axisLine={{ stroke: AXIS_COLOR }} tick={BottomTick} allowDataOverflow />
        <XAxis xAxisId="t" orientation="top" dataKey="x" type="number" domain={[0, 5]} ticks={xTicks} interval={0} height={0}
          tickSize={0} tickMargin={0} tickLine={false} axisLine={{ stroke: AXIS_COLOR }} tick={TopTick} allowDataOverflow />
        <YAxis yAxisId="l" type="number" domain={domain} ticks={yTicks} interval={0} width={ML}
          tickSize={0} tickMargin={0} tickLine={false} axisLine={{ stroke: AXIS_COLOR }} tick={LeftTick} allowDataOverflow />
        <YAxis yAxisId="r" orientation="right" type="number" domain={domain} ticks={yTicks} interval={0} width={0}
          tickSize={0} tickMargin={0} tickLine={false} axisLine={{ stroke: AXIS_COLOR }} tick={RightTick} allowDataOverflow />
        <ReferenceArea xAxisId="b" yAxisId="l" x1={0} x2={5} y1={domain[0]} y2={domain[1]} fill="none" fillOpacity={0}
          stroke={AXIS_COLOR} strokeWidth={1} ifOverflow="visible" />
        {series.map((_, j) => (
          <Line key={j} xAxisId="b" yAxisId="l" type="linear" dataKey={'s' + j} stroke={colors[j]} strokeWidth={1}
            dot={false} activeDot={false} isAnimationActive={false} />
        ))}
      </LineChart>
    </div>
  );
}

const titleX = [227, 558, 893, 1235];
const nsX = [236, 566, 898, 1234];

export default function App() {
  return (
    <div style={{ position: 'absolute', left: 0, top: 0, width: 1387, height: 693, background: '#fff', overflow: 'hidden', fontFamily: FONT }}>
      <Panel col={0} row={0} domain={[-10, 30]} yTicks={yTicksBP} series={bpStable} colors={colBpStable} />
      <Panel col={1} row={0} domain={[-10, 30]} yTicks={yTicksBP} series={bpDipole} colors={colBpDipole} />
      <Panel col={2} row={0} domain={[-10, 30]} yTicks={yTicksBP} series={bpQuad} colors={colBpQuad} />
      <Panel col={3} row={0} domain={[-5, 15]} yTicks={yTicksBPsmall} series={bpNonRigid} colors={colBpNonRigid} />

      <Panel col={0} row={1} domain={[-10, 10]} yTicks={yTicks10} series={d1Stable} colors={colD1Stable} />
      <Panel col={1} row={1} domain={[-25, 25]} yTicks={yTicks20} series={d1Dipole} colors={colD1Dipole} />
      <Panel col={2} row={1} domain={[-10, 10]} yTicks={yTicks10} series={d1Quad} colors={colD1Quad} />
      <Panel col={3} row={1} domain={[-10, 10]} yTicks={yTicks10} series={d1NonRigid} colors={colD1NonRigid} />

      <Panel col={0} row={2} domain={[-10, 10]} yTicks={yTicks10} series={d24Stable} colors={colD24Stable} />
      <Panel col={1} row={2} domain={[-25, 25]} yTicks={yTicks20} series={d24Dipole} colors={colD24Dipole} />
      <Panel col={2} row={2} domain={[-10, 10]} yTicks={yTicks10} series={d24Quad} colors={colD24Quad} />
      <Panel col={3} row={2} domain={[-10, 10]} yTicks={yTicks10} series={d24NonRigid} colors={colD24NonRigid} />

      <svg width={1387} height={693} style={{ position: 'absolute', left: 0, top: 0, pointerEvents: 'none' }}>
        {titles.map((tt, i) => (
          <text key={tt} x={titleX[i]} y={33} textAnchor="middle" fontSize={31} fontWeight="bold" fill={TITLE_COLOR} fontFamily={FONT}>{tt}</text>
        ))}
        <text transform="rotate(-90 45 131)" x={45} y={131} textAnchor="middle" fontSize={22} fill="#000" fontFamily={FONT}>BP [a.u.]</text>
        <text transform="rotate(-90 39 346)" x={39} y={346} textAnchor="middle" fontSize={23} fill="#000" fontFamily={FONT}>
          ΔBP<tspan fontSize={16} dy={5}>1</tspan><tspan dy={-5}> [a.u.]</tspan>
        </text>
        <text transform="rotate(-90 43 518)" x={43} y={518} textAnchor="middle" fontSize={24} fill="#f03a2e" fontFamily={FONT}>
          ΔBP<tspan fontSize={17} dy={5}>2</tspan>
        </text>
        <text transform="rotate(-90 43 600)" x={43} y={600} textAnchor="middle" fontSize={24} fill="#000" fontFamily={FONT}>
          ΔBP<tspan fontSize={17} dy={5}>4</tspan>
        </text>
        {nsX.map((cx, i) => (
          <text key={i} x={cx} y={683} textAnchor="middle" fontSize={22} fill="#000" fontFamily={FONT}>[ns]</text>
        ))}
      </svg>
    </div>
  );
}
